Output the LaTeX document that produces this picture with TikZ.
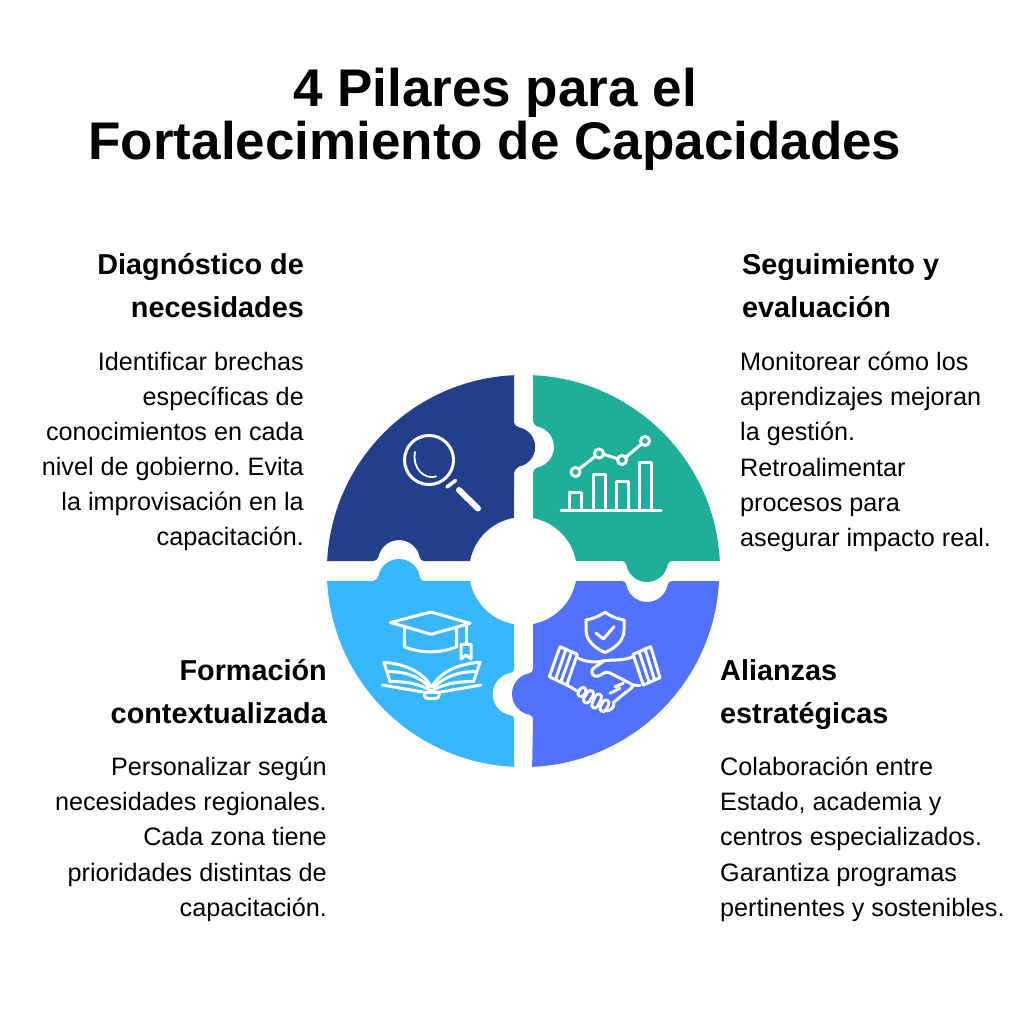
\documentclass[tikz,border=0pt]{standalone}
\usepackage{fontspec}
\setmainfont{Liberation Sans}
\usetikzlibrary{calc}
\definecolor{cdark}{HTML}{233F8B}
\definecolor{cteal}{HTML}{1FAF99}
\definecolor{clight}{HTML}{38B6FF}
\definecolor{cblue}{HTML}{5271FF}
\frenchspacing
\tikzset{
 ttl/.style={inner sep=0pt,align=center,font=\fontsize{53}{52.5}\selectfont\bfseries},
 headr/.style={inner sep=0pt,align=right,anchor=north east,font=\fontsize{28.8}{43}\selectfont\bfseries},
 headl/.style={inner sep=0pt,align=left,anchor=north west,font=\fontsize{28.8}{43}\selectfont\bfseries},
 bodyr/.style={inner sep=0pt,align=right,anchor=north east,font=\fontsize{25.2}{35.1}\selectfont},
 bodyl/.style={inner sep=0pt,align=left,anchor=north west,font=\fontsize{25.2}{35.1}\selectfont},
 ico/.style={draw=white,line width=3pt,line join=round,line cap=round,fill=none},
 capw/.style={draw=white,line width=9.2pt,line cap=round},
 capb/.style={draw=cblue,line width=3.2pt,line cap=round},
}
\begin{document}
\begin{tikzpicture}[x=1pt,y=-1pt]
\useasboundingbox (0,0) rectangle (1024,1024);
\fill[white] (0,0) rectangle (1024,1024);
% puzzle pieces
\fill[cdark] (514,375.2) arc[start angle=267.4,end angle=182.9,radius=196]
  -- (373,561) .. controls (376,561) and (377.5,559) .. (378.4,557)
  arc[start angle=191,end angle=349,radius=21]
  .. controls (420.5,559) and (421,561) .. (424,561)
  -- (470,561) arc[start angle=190.7,end angle=260.4,radius=53.9]
  -- (514,473) .. controls (514,470) and (516,469) .. (519,466.6)
  arc[start angle=79,end angle=-79,radius=20]
  .. controls (516,426) and (514,425) .. (514,422) -- cycle;
\fill[cteal] (533,375.2) arc[start angle=272.6,end angle=357.1,radius=196]
  -- (672,561) .. controls (669,561) and (668.5,563) .. (667.6,565)
  arc[start angle=11,end angle=169,radius=21]
  .. controls (625.5,563) and (625,561) .. (622,561)
  -- (576,561) arc[start angle=349.3,end angle=280.7,radius=53.9]
  -- (533,473) .. controls (533,470) and (535,469.5) .. (537,467.6)
  arc[start angle=79,end angle=-79,radius=21]
  .. controls (535,424.5) and (533,424) .. (533,421) -- cycle;
\fill[cblue] (719,581) arc[start angle=2.9,end angle=87.4,radius=196]
  -- (533,719) .. controls (533,716) and (531,715.5) .. (529,714.6)
  arc[start angle=101,end angle=259,radius=21]
  .. controls (531,672.5) and (533,672) .. (533,669)
  -- (533,624) arc[start angle=79.3,end angle=10.7,radius=53.9] -- (576,581)
  -- (622,581) .. controls (625,581) and (625.5,583) .. (626.4,585)
  arc[start angle=169,end angle=11,radius=21]
  .. controls (668.5,583) and (669,581) .. (672,581) -- cycle;
\fill[clight] (327.2,581) -- (373,581) .. controls (376,581) and (377.5,578) .. (378.4,576)
  arc[start angle=191,end angle=349,radius=21]
  .. controls (420.5,579) and (421,581) .. (424,581)
  -- (470,581) arc[start angle=169.3,end angle=99.6,radius=53.9]
  -- (514,669) .. controls (514,672) and (512,672.5) .. (510,673)
  arc[start angle=259,end angle=101,radius=21.5]
  .. controls (512,715.5) and (514,716) .. (514,719)
  -- (514,766.8) arc[start angle=92.6,end angle=177.1,radius=196] -- cycle;
% magnifier
\draw[ico] (429,460) circle[radius=24.5];
\draw[ico,line width=1.8pt] (415,452) .. controls (412,468) and (424,480) .. (436,476.5);
\draw[ico,line width=3.5pt] (447,487) -- (455.5,480.5);
\draw[ico,line width=6pt] (459,490) -- (478,508.5);
% chart
\draw[ico] (561,510) -- (661,510);
\draw[ico,line cap=butt] (569.5,510) |- (581.5,492.5) -- (581.5,510);
\draw[ico,line cap=butt] (593,510) |- (605.5,474) -- (605.5,510);
\draw[ico,line cap=butt] (616,510) |- (628.5,481) -- (628.5,510);
\draw[ico,line cap=butt] (639.5,510) |- (651.5,462) -- (651.5,510);
\draw[ico] (579,469) -- (595,456.5) (604,454.5) -- (617,458.5) (626,457) -- (641,444.5);
\draw[ico] (575.5,472) circle[radius=4.5] (599,453.5) circle[radius=4.5] (622,460) circle[radius=4.5] (645,441) circle[radius=4.5];
% cap
\draw[ico] (390.5,622.5) -- (431,612) -- (470,623.3) -- (431,634.3) -- cycle;
\draw[ico] (404.3,627.7) -- (404.3,646.7) .. controls (420,653.5) and (441,653.5) .. (456.7,646.7) -- (456.7,627.7);
\draw[ico] (466,625) -- (466,644.3);
\draw[ico] (461,644.3) -- (471,644.3) -- (471,659) -- (466,655) -- (461,659) -- cycle;
% book
\draw[ico] (431.7,687) .. controls (424,674) and (408,664) .. (384,662.3) -- (390,681.7) .. controls (405,681) and (420,684) .. (431.7,691);
\draw[ico] (431.7,687) .. controls (439,674) and (455,664) .. (480,662.3) -- (473.5,681.7) .. controls (458,681) and (443,684) .. (431.7,691);
\draw[ico] (387,671.7) .. controls (405,671) and (420,677) .. (429.5,687);
\draw[ico] (477,671.7) .. controls (459,671) and (444,677) .. (434,687);
\draw[ico] (382.3,685) -- (424.5,692.3) -- (439,692.3) -- (481,685);
\draw[ico] (424.5,692.3) -- (424.5,695.5) .. controls (424.5,697.5) and (426,698.3) .. (428,698.3) -- (435.5,698.3) .. controls (437.5,698.3) and (439,697.5) .. (439,695.5) -- (439,692.3);
% shield
\draw[ico] (605,612.3) .. controls (598,617) and (592,619) .. (586,620) -- (586,630) .. controls (586,641) and (595,648) .. (605,652.5) .. controls (615,648) and (624,641) .. (624,630) -- (624,620) .. controls (618,619) and (612,617) .. (605,612.3) -- cycle;
\draw[ico] (596,633) -- (603.3,639) -- (614,626.7);
% hand fingers (outlined capsules)
\draw[capw] (583,690.5) -- (581,693.5);
\draw[capb] (583,690.5) -- (581,693.5);
\draw[capw] (590.5,693.5) -- (586.5,700);
\draw[capb] (590.5,693.5) -- (586.5,700);
\draw[capw] (598.5,697) -- (594.7,705);
\draw[capb] (598.5,697) -- (594.7,705);
\draw[capw] (606,703) -- (603,708.5);
\draw[capb] (606,703) -- (603,708.5);
% cuffs
\draw[ico] (560,646.7) -- (577.3,654.3) -- (566.7,685) -- (549.3,676.7) -- cycle;
\draw[ico] (566,649) -- (555.7,679) (571.7,651.7) -- (561,681.7);
\draw[ico] (650.7,646.7) -- (633,654.3) -- (643.3,685) -- (660,677.7) -- cycle;
\draw[ico] (645,649) -- (654.3,679) (639,651.7) -- (649,681.7);
% hands
\draw[ico] (577.3,657.7) .. controls (585,662) and (595,663) .. (604,660.8) .. controls (612,659.5) and (624,661) .. (633,656.7);
\draw[ico] (604,660.8) -- (594.5,667.5) .. controls (591,670) and (591,673.5) .. (593,675) .. controls (596,677.5) and (600,676) .. (603,673.5) .. controls (605,672) and (607,671.8) .. (610,673) -- (633.3,685) -- (640,685.5);
\draw[ico] (633.3,685) .. controls (632,688) and (628,691) .. (625,693) -- (613.5,702.5) .. controls (615,706) and (612,710) .. (607,711);
\draw[ico] (615,686.7) -- (623.3,683.3) (610,693.3) -- (620,688.3);
\draw[ico] (566.7,685) -- (579,692);
% texts
\node[ttl] (title) at (495,119.5) {4 Pilares para el\\Fortalecimiento de Capacidades};
\node[headr] (h1) at (304,253) {Diagnóstico de\\necesidades};
\node[bodyr] (b1) at (304,352) {Identificar brechas\\específicas de\\conocimientos en cada\\nivel de gobierno. Evita\\la improvisación en la\\capacitación.};
\node[headl] (h2) at (742,253) {Seguimiento y\\evaluación};
\node[bodyl] (b2) at (740,352) {Monitorear cómo los\\aprendizajes mejoran\\la gestión.\\Retroalimentar\\procesos para\\asegurar impacto real.};
\node[headr] (h3) at (327,659) {Formación\\contextualizada};
\node[bodyr] (b3) at (327,757) {Personalizar según\\necesidades regionales.\\Cada zona tiene\\prioridades distintas de\\capacitación.};
\node[headl] (h4) at (720,659) {Alianzas\\estratégicas};
\node[bodyl] (b4) at (720,757) {Colaboración entre\\Estado, academia y\\centros especializados.\\Garantiza programas\\pertinentes y sostenibles.};
\end{tikzpicture}
\end{document}
